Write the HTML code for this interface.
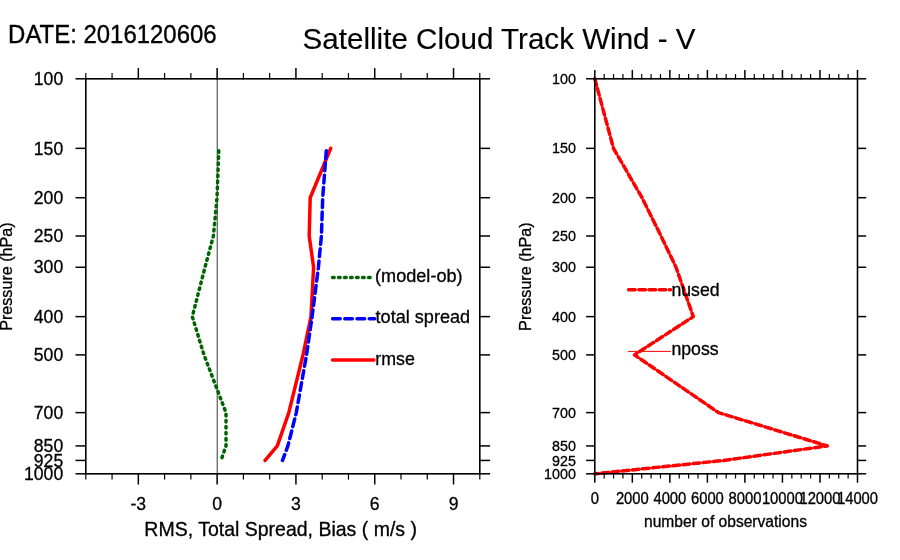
<!DOCTYPE html>
<html><head><meta charset="utf-8"><title>Satellite Cloud Track Wind - V</title>
<style>
html,body{margin:0;padding:0;background:#fff;width:900px;height:560px;overflow:hidden}
svg{display:block;will-change:transform}
text{font-family:"Liberation Sans", Arial, Helvetica, sans-serif;fill:#000}
</style></head><body>
<svg width="900" height="560" viewBox="0 0 900 560">
<rect width="900" height="560" fill="#fff"/>
<text transform="translate(8.10 42.50) scale(1 1.045)" font-size="23.95" text-anchor="start" stroke="#000" stroke-width="0.35" stroke-linejoin="round" >DATE: 2016120606</text>
<text transform="translate(499.10 48.70) scale(1 1.01)" font-size="29.6" text-anchor="middle" stroke="#000" stroke-width="0.15" stroke-linejoin="round" >Satellite Cloud Track Wind - V</text>
<line x1="217.30" y1="78.80" x2="217.30" y2="473.80" stroke="#707070" stroke-width="1.4" />
<polyline points="218.90,148.36 217.00,197.71 213.40,235.99 205.00,267.26 192.30,316.61 204.00,354.89 226.00,412.61 226.00,445.92 221.00,460.43" fill="none" stroke="#006400" stroke-width="3.5" stroke-linejoin="round" stroke-linecap="round" stroke-dasharray="1.6 4.45" stroke-dashoffset="3.6"/>
<polyline points="330.70,148.36 310.20,197.71 309.20,235.99 313.60,267.26 311.00,316.61 303.00,354.89 288.80,412.61 277.30,445.92 265.10,460.43" fill="none" stroke="#ff0000" stroke-width="3.5" stroke-linejoin="round" stroke-linecap="round"/>
<polyline points="326.50,148.36 322.70,197.71 321.40,235.99 318.40,267.26 312.10,316.61 306.50,354.89 296.30,412.61 287.90,445.92 282.50,460.43" fill="none" stroke="#0000ff" stroke-width="3.5" stroke-linejoin="round" stroke-linecap="round" stroke-dasharray="7.8 4.5" stroke-dashoffset="10.0"/>
<line x1="75.50" y1="78.80" x2="85.80" y2="78.80" stroke="#000" stroke-width="1.5" />
<line x1="479.80" y1="78.80" x2="490.10" y2="78.80" stroke="#000" stroke-width="1.5" />
<text x="63.20" y="85.00" font-size="17.6" text-anchor="end" stroke="#000" stroke-width="0.3" stroke-linejoin="round" >100</text>
<line x1="75.50" y1="148.36" x2="85.80" y2="148.36" stroke="#000" stroke-width="1.5" />
<line x1="479.80" y1="148.36" x2="490.10" y2="148.36" stroke="#000" stroke-width="1.5" />
<text x="63.20" y="154.56" font-size="17.6" text-anchor="end" stroke="#000" stroke-width="0.3" stroke-linejoin="round" >150</text>
<line x1="75.50" y1="197.71" x2="85.80" y2="197.71" stroke="#000" stroke-width="1.5" />
<line x1="479.80" y1="197.71" x2="490.10" y2="197.71" stroke="#000" stroke-width="1.5" />
<text x="63.20" y="203.91" font-size="17.6" text-anchor="end" stroke="#000" stroke-width="0.3" stroke-linejoin="round" >200</text>
<line x1="75.50" y1="235.99" x2="85.80" y2="235.99" stroke="#000" stroke-width="1.5" />
<line x1="479.80" y1="235.99" x2="490.10" y2="235.99" stroke="#000" stroke-width="1.5" />
<text x="63.20" y="242.19" font-size="17.6" text-anchor="end" stroke="#000" stroke-width="0.3" stroke-linejoin="round" >250</text>
<line x1="75.50" y1="267.26" x2="85.80" y2="267.26" stroke="#000" stroke-width="1.5" />
<line x1="479.80" y1="267.26" x2="490.10" y2="267.26" stroke="#000" stroke-width="1.5" />
<text x="63.20" y="273.46" font-size="17.6" text-anchor="end" stroke="#000" stroke-width="0.3" stroke-linejoin="round" >300</text>
<line x1="75.50" y1="316.61" x2="85.80" y2="316.61" stroke="#000" stroke-width="1.5" />
<line x1="479.80" y1="316.61" x2="490.10" y2="316.61" stroke="#000" stroke-width="1.5" />
<text x="63.20" y="322.81" font-size="17.6" text-anchor="end" stroke="#000" stroke-width="0.3" stroke-linejoin="round" >400</text>
<line x1="75.50" y1="354.89" x2="85.80" y2="354.89" stroke="#000" stroke-width="1.5" />
<line x1="479.80" y1="354.89" x2="490.10" y2="354.89" stroke="#000" stroke-width="1.5" />
<text x="63.20" y="361.09" font-size="17.6" text-anchor="end" stroke="#000" stroke-width="0.3" stroke-linejoin="round" >500</text>
<line x1="75.50" y1="412.61" x2="85.80" y2="412.61" stroke="#000" stroke-width="1.5" />
<line x1="479.80" y1="412.61" x2="490.10" y2="412.61" stroke="#000" stroke-width="1.5" />
<text x="63.20" y="418.81" font-size="17.6" text-anchor="end" stroke="#000" stroke-width="0.3" stroke-linejoin="round" >700</text>
<line x1="75.50" y1="445.92" x2="85.80" y2="445.92" stroke="#000" stroke-width="1.5" />
<line x1="479.80" y1="445.92" x2="490.10" y2="445.92" stroke="#000" stroke-width="1.5" />
<text x="63.20" y="452.12" font-size="17.6" text-anchor="end" stroke="#000" stroke-width="0.3" stroke-linejoin="round" >850</text>
<line x1="75.50" y1="460.43" x2="85.80" y2="460.43" stroke="#000" stroke-width="1.5" />
<line x1="479.80" y1="460.43" x2="490.10" y2="460.43" stroke="#000" stroke-width="1.5" />
<text x="63.20" y="466.63" font-size="17.6" text-anchor="end" stroke="#000" stroke-width="0.3" stroke-linejoin="round" >925</text>
<line x1="75.50" y1="473.80" x2="85.80" y2="473.80" stroke="#000" stroke-width="1.5" />
<line x1="479.80" y1="473.80" x2="490.10" y2="473.80" stroke="#000" stroke-width="1.5" />
<text x="63.20" y="480.00" font-size="17.6" text-anchor="end" stroke="#000" stroke-width="0.3" stroke-linejoin="round" >1000</text>
<line x1="85.80" y1="79.40" x2="85.80" y2="73.00" stroke="#000" stroke-width="1.2" />
<line x1="85.80" y1="473.20" x2="85.80" y2="479.60" stroke="#000" stroke-width="1.2" />
<line x1="112.07" y1="79.40" x2="112.07" y2="73.00" stroke="#000" stroke-width="1.2" />
<line x1="112.07" y1="473.20" x2="112.07" y2="479.60" stroke="#000" stroke-width="1.2" />
<line x1="138.33" y1="79.40" x2="138.33" y2="68.10" stroke="#000" stroke-width="1.5" />
<line x1="138.33" y1="473.20" x2="138.33" y2="484.50" stroke="#000" stroke-width="1.5" />
<line x1="164.60" y1="79.40" x2="164.60" y2="73.00" stroke="#000" stroke-width="1.2" />
<line x1="164.60" y1="473.20" x2="164.60" y2="479.60" stroke="#000" stroke-width="1.2" />
<line x1="190.87" y1="79.40" x2="190.87" y2="73.00" stroke="#000" stroke-width="1.2" />
<line x1="190.87" y1="473.20" x2="190.87" y2="479.60" stroke="#000" stroke-width="1.2" />
<line x1="217.13" y1="79.40" x2="217.13" y2="68.10" stroke="#000" stroke-width="1.5" />
<line x1="217.13" y1="473.20" x2="217.13" y2="484.50" stroke="#000" stroke-width="1.5" />
<line x1="243.40" y1="79.40" x2="243.40" y2="73.00" stroke="#000" stroke-width="1.2" />
<line x1="243.40" y1="473.20" x2="243.40" y2="479.60" stroke="#000" stroke-width="1.2" />
<line x1="269.67" y1="79.40" x2="269.67" y2="73.00" stroke="#000" stroke-width="1.2" />
<line x1="269.67" y1="473.20" x2="269.67" y2="479.60" stroke="#000" stroke-width="1.2" />
<line x1="295.93" y1="79.40" x2="295.93" y2="68.10" stroke="#000" stroke-width="1.5" />
<line x1="295.93" y1="473.20" x2="295.93" y2="484.50" stroke="#000" stroke-width="1.5" />
<line x1="322.20" y1="79.40" x2="322.20" y2="73.00" stroke="#000" stroke-width="1.2" />
<line x1="322.20" y1="473.20" x2="322.20" y2="479.60" stroke="#000" stroke-width="1.2" />
<line x1="348.47" y1="79.40" x2="348.47" y2="73.00" stroke="#000" stroke-width="1.2" />
<line x1="348.47" y1="473.20" x2="348.47" y2="479.60" stroke="#000" stroke-width="1.2" />
<line x1="374.73" y1="79.40" x2="374.73" y2="68.10" stroke="#000" stroke-width="1.5" />
<line x1="374.73" y1="473.20" x2="374.73" y2="484.50" stroke="#000" stroke-width="1.5" />
<line x1="401.00" y1="79.40" x2="401.00" y2="73.00" stroke="#000" stroke-width="1.2" />
<line x1="401.00" y1="473.20" x2="401.00" y2="479.60" stroke="#000" stroke-width="1.2" />
<line x1="427.27" y1="79.40" x2="427.27" y2="73.00" stroke="#000" stroke-width="1.2" />
<line x1="427.27" y1="473.20" x2="427.27" y2="479.60" stroke="#000" stroke-width="1.2" />
<line x1="453.53" y1="79.40" x2="453.53" y2="68.10" stroke="#000" stroke-width="1.5" />
<line x1="453.53" y1="473.20" x2="453.53" y2="484.50" stroke="#000" stroke-width="1.5" />
<line x1="479.80" y1="79.40" x2="479.80" y2="73.00" stroke="#000" stroke-width="1.2" />
<line x1="479.80" y1="473.20" x2="479.80" y2="479.60" stroke="#000" stroke-width="1.2" />
<text transform="translate(138.33 509.50) scale(1 1.08)" font-size="17.6" text-anchor="middle" stroke="#000" stroke-width="0.3" stroke-linejoin="round" >-3</text>
<text transform="translate(217.13 509.50) scale(1 1.08)" font-size="17.6" text-anchor="middle" stroke="#000" stroke-width="0.3" stroke-linejoin="round" >0</text>
<text transform="translate(295.93 509.50) scale(1 1.08)" font-size="17.6" text-anchor="middle" stroke="#000" stroke-width="0.3" stroke-linejoin="round" >3</text>
<text transform="translate(374.73 509.50) scale(1 1.08)" font-size="17.6" text-anchor="middle" stroke="#000" stroke-width="0.3" stroke-linejoin="round" >6</text>
<text transform="translate(453.53 509.50) scale(1 1.08)" font-size="17.6" text-anchor="middle" stroke="#000" stroke-width="0.3" stroke-linejoin="round" >9</text>
<rect x="85.80" y="78.80" width="394.00" height="395.00" fill="none" stroke="#000" stroke-width="1.6"/>
<text transform="translate(280.65 535.80) scale(1 1.02)" font-size="19.5" text-anchor="middle" stroke="#000" stroke-width="0.3" stroke-linejoin="round" >RMS, Total Spread, Bias ( m/s )</text>
<text x="11.65" y="276.6" font-size="16.15" text-anchor="middle" stroke="#000" stroke-width="0.3" stroke-linejoin="round" transform="rotate(-90 11.65 276.6)">Pressure (hPa)</text>
<polyline points="332.55,277.50 370.20,277.50" fill="none" stroke="#006400" stroke-width="3.5" stroke-linejoin="round" stroke-linecap="round" stroke-dasharray="1.6 4.4"/>
<text transform="translate(375.10 282.30) scale(1 1.03)" font-size="18.1" text-anchor="start" stroke="#000" stroke-width="0.3" stroke-linejoin="round" >(model-ob)</text>
<polyline points="332.60,318.80 374.60,318.80" fill="none" stroke="#0000ff" stroke-width="3.5" stroke-linejoin="round" stroke-linecap="round" stroke-dasharray="7.6 4.6"/>
<text transform="translate(375.60 323.40) scale(1 1.03)" font-size="18.1" text-anchor="start" stroke="#000" stroke-width="0.3" stroke-linejoin="round" >total spread</text>
<polyline points="332.50,360.00 374.00,360.00" fill="none" stroke="#ff0000" stroke-width="3.5" stroke-linejoin="round" stroke-linecap="round"/>
<text transform="translate(375.30 365.00) scale(1 1.04)" font-size="17.8" text-anchor="start" stroke="#000" stroke-width="0.3" stroke-linejoin="round" >rmse</text>
<polyline points="594.80,78.80 613.50,148.36 642.00,197.71 661.00,235.99 676.00,267.26 693.30,316.61 634.50,354.89 718.50,412.61 827.30,445.92 724.00,460.43 594.80,473.80" fill="none" stroke="#ff0000" stroke-width="1.3" stroke-linejoin="round" />
<polyline points="594.80,78.80 613.50,148.36 642.00,197.71 661.00,235.99 676.00,267.26 693.30,316.61 634.50,354.89 718.50,412.61 827.30,445.92 724.00,460.43 594.80,473.80" fill="none" stroke="#ff0000" stroke-width="3.5" stroke-linejoin="round" stroke-linecap="round" stroke-dasharray="6.6 3.6"/>
<line x1="586.10" y1="78.80" x2="594.80" y2="78.80" stroke="#000" stroke-width="1.5" />
<line x1="857.50" y1="78.80" x2="866.20" y2="78.80" stroke="#000" stroke-width="1.5" />
<text transform="translate(575.90 83.90) scale(1 1.08)" font-size="14.3" text-anchor="end" stroke="#000" stroke-width="0.3" stroke-linejoin="round" >100</text>
<line x1="586.10" y1="148.36" x2="594.80" y2="148.36" stroke="#000" stroke-width="1.5" />
<line x1="857.50" y1="148.36" x2="866.20" y2="148.36" stroke="#000" stroke-width="1.5" />
<text transform="translate(575.90 153.46) scale(1 1.08)" font-size="14.3" text-anchor="end" stroke="#000" stroke-width="0.3" stroke-linejoin="round" >150</text>
<line x1="586.10" y1="197.71" x2="594.80" y2="197.71" stroke="#000" stroke-width="1.5" />
<line x1="857.50" y1="197.71" x2="866.20" y2="197.71" stroke="#000" stroke-width="1.5" />
<text transform="translate(575.90 202.81) scale(1 1.08)" font-size="14.3" text-anchor="end" stroke="#000" stroke-width="0.3" stroke-linejoin="round" >200</text>
<line x1="586.10" y1="235.99" x2="594.80" y2="235.99" stroke="#000" stroke-width="1.5" />
<line x1="857.50" y1="235.99" x2="866.20" y2="235.99" stroke="#000" stroke-width="1.5" />
<text transform="translate(575.90 241.09) scale(1 1.08)" font-size="14.3" text-anchor="end" stroke="#000" stroke-width="0.3" stroke-linejoin="round" >250</text>
<line x1="586.10" y1="267.26" x2="594.80" y2="267.26" stroke="#000" stroke-width="1.5" />
<line x1="857.50" y1="267.26" x2="866.20" y2="267.26" stroke="#000" stroke-width="1.5" />
<text transform="translate(575.90 272.36) scale(1 1.08)" font-size="14.3" text-anchor="end" stroke="#000" stroke-width="0.3" stroke-linejoin="round" >300</text>
<line x1="586.10" y1="316.61" x2="594.80" y2="316.61" stroke="#000" stroke-width="1.5" />
<line x1="857.50" y1="316.61" x2="866.20" y2="316.61" stroke="#000" stroke-width="1.5" />
<text transform="translate(575.90 321.71) scale(1 1.08)" font-size="14.3" text-anchor="end" stroke="#000" stroke-width="0.3" stroke-linejoin="round" >400</text>
<line x1="586.10" y1="354.89" x2="594.80" y2="354.89" stroke="#000" stroke-width="1.5" />
<line x1="857.50" y1="354.89" x2="866.20" y2="354.89" stroke="#000" stroke-width="1.5" />
<text transform="translate(575.90 359.99) scale(1 1.08)" font-size="14.3" text-anchor="end" stroke="#000" stroke-width="0.3" stroke-linejoin="round" >500</text>
<line x1="586.10" y1="412.61" x2="594.80" y2="412.61" stroke="#000" stroke-width="1.5" />
<line x1="857.50" y1="412.61" x2="866.20" y2="412.61" stroke="#000" stroke-width="1.5" />
<text transform="translate(575.90 417.71) scale(1 1.08)" font-size="14.3" text-anchor="end" stroke="#000" stroke-width="0.3" stroke-linejoin="round" >700</text>
<line x1="586.10" y1="445.92" x2="594.80" y2="445.92" stroke="#000" stroke-width="1.5" />
<line x1="857.50" y1="445.92" x2="866.20" y2="445.92" stroke="#000" stroke-width="1.5" />
<text transform="translate(575.90 451.02) scale(1 1.08)" font-size="14.3" text-anchor="end" stroke="#000" stroke-width="0.3" stroke-linejoin="round" >850</text>
<line x1="586.10" y1="460.43" x2="594.80" y2="460.43" stroke="#000" stroke-width="1.5" />
<line x1="857.50" y1="460.43" x2="866.20" y2="460.43" stroke="#000" stroke-width="1.5" />
<text transform="translate(575.90 465.53) scale(1 1.08)" font-size="14.3" text-anchor="end" stroke="#000" stroke-width="0.3" stroke-linejoin="round" >925</text>
<line x1="586.10" y1="473.80" x2="594.80" y2="473.80" stroke="#000" stroke-width="1.5" />
<line x1="857.50" y1="473.80" x2="866.20" y2="473.80" stroke="#000" stroke-width="1.5" />
<text transform="translate(575.90 478.90) scale(1 1.08)" font-size="14.3" text-anchor="end" stroke="#000" stroke-width="0.3" stroke-linejoin="round" >1000</text>
<line x1="594.80" y1="79.40" x2="594.80" y2="69.90" stroke="#000" stroke-width="1.5" />
<line x1="594.80" y1="473.20" x2="594.80" y2="482.70" stroke="#000" stroke-width="1.5" />
<line x1="604.18" y1="79.40" x2="604.18" y2="74.10" stroke="#000" stroke-width="1.2" />
<line x1="604.18" y1="473.20" x2="604.18" y2="478.50" stroke="#000" stroke-width="1.2" />
<line x1="613.56" y1="79.40" x2="613.56" y2="74.10" stroke="#000" stroke-width="1.2" />
<line x1="613.56" y1="473.20" x2="613.56" y2="478.50" stroke="#000" stroke-width="1.2" />
<line x1="622.95" y1="79.40" x2="622.95" y2="74.10" stroke="#000" stroke-width="1.2" />
<line x1="622.95" y1="473.20" x2="622.95" y2="478.50" stroke="#000" stroke-width="1.2" />
<line x1="632.33" y1="79.40" x2="632.33" y2="69.90" stroke="#000" stroke-width="1.5" />
<line x1="632.33" y1="473.20" x2="632.33" y2="482.70" stroke="#000" stroke-width="1.5" />
<line x1="641.71" y1="79.40" x2="641.71" y2="74.10" stroke="#000" stroke-width="1.2" />
<line x1="641.71" y1="473.20" x2="641.71" y2="478.50" stroke="#000" stroke-width="1.2" />
<line x1="651.09" y1="79.40" x2="651.09" y2="74.10" stroke="#000" stroke-width="1.2" />
<line x1="651.09" y1="473.20" x2="651.09" y2="478.50" stroke="#000" stroke-width="1.2" />
<line x1="660.47" y1="79.40" x2="660.47" y2="74.10" stroke="#000" stroke-width="1.2" />
<line x1="660.47" y1="473.20" x2="660.47" y2="478.50" stroke="#000" stroke-width="1.2" />
<line x1="669.86" y1="79.40" x2="669.86" y2="69.90" stroke="#000" stroke-width="1.5" />
<line x1="669.86" y1="473.20" x2="669.86" y2="482.70" stroke="#000" stroke-width="1.5" />
<line x1="679.24" y1="79.40" x2="679.24" y2="74.10" stroke="#000" stroke-width="1.2" />
<line x1="679.24" y1="473.20" x2="679.24" y2="478.50" stroke="#000" stroke-width="1.2" />
<line x1="688.62" y1="79.40" x2="688.62" y2="74.10" stroke="#000" stroke-width="1.2" />
<line x1="688.62" y1="473.20" x2="688.62" y2="478.50" stroke="#000" stroke-width="1.2" />
<line x1="698.00" y1="79.40" x2="698.00" y2="74.10" stroke="#000" stroke-width="1.2" />
<line x1="698.00" y1="473.20" x2="698.00" y2="478.50" stroke="#000" stroke-width="1.2" />
<line x1="707.39" y1="79.40" x2="707.39" y2="69.90" stroke="#000" stroke-width="1.5" />
<line x1="707.39" y1="473.20" x2="707.39" y2="482.70" stroke="#000" stroke-width="1.5" />
<line x1="716.77" y1="79.40" x2="716.77" y2="74.10" stroke="#000" stroke-width="1.2" />
<line x1="716.77" y1="473.20" x2="716.77" y2="478.50" stroke="#000" stroke-width="1.2" />
<line x1="726.15" y1="79.40" x2="726.15" y2="74.10" stroke="#000" stroke-width="1.2" />
<line x1="726.15" y1="473.20" x2="726.15" y2="478.50" stroke="#000" stroke-width="1.2" />
<line x1="735.53" y1="79.40" x2="735.53" y2="74.10" stroke="#000" stroke-width="1.2" />
<line x1="735.53" y1="473.20" x2="735.53" y2="478.50" stroke="#000" stroke-width="1.2" />
<line x1="744.91" y1="79.40" x2="744.91" y2="69.90" stroke="#000" stroke-width="1.5" />
<line x1="744.91" y1="473.20" x2="744.91" y2="482.70" stroke="#000" stroke-width="1.5" />
<line x1="754.30" y1="79.40" x2="754.30" y2="74.10" stroke="#000" stroke-width="1.2" />
<line x1="754.30" y1="473.20" x2="754.30" y2="478.50" stroke="#000" stroke-width="1.2" />
<line x1="763.68" y1="79.40" x2="763.68" y2="74.10" stroke="#000" stroke-width="1.2" />
<line x1="763.68" y1="473.20" x2="763.68" y2="478.50" stroke="#000" stroke-width="1.2" />
<line x1="773.06" y1="79.40" x2="773.06" y2="74.10" stroke="#000" stroke-width="1.2" />
<line x1="773.06" y1="473.20" x2="773.06" y2="478.50" stroke="#000" stroke-width="1.2" />
<line x1="782.44" y1="79.40" x2="782.44" y2="69.90" stroke="#000" stroke-width="1.5" />
<line x1="782.44" y1="473.20" x2="782.44" y2="482.70" stroke="#000" stroke-width="1.5" />
<line x1="791.83" y1="79.40" x2="791.83" y2="74.10" stroke="#000" stroke-width="1.2" />
<line x1="791.83" y1="473.20" x2="791.83" y2="478.50" stroke="#000" stroke-width="1.2" />
<line x1="801.21" y1="79.40" x2="801.21" y2="74.10" stroke="#000" stroke-width="1.2" />
<line x1="801.21" y1="473.20" x2="801.21" y2="478.50" stroke="#000" stroke-width="1.2" />
<line x1="810.59" y1="79.40" x2="810.59" y2="74.10" stroke="#000" stroke-width="1.2" />
<line x1="810.59" y1="473.20" x2="810.59" y2="478.50" stroke="#000" stroke-width="1.2" />
<line x1="819.97" y1="79.40" x2="819.97" y2="69.90" stroke="#000" stroke-width="1.5" />
<line x1="819.97" y1="473.20" x2="819.97" y2="482.70" stroke="#000" stroke-width="1.5" />
<line x1="829.35" y1="79.40" x2="829.35" y2="74.10" stroke="#000" stroke-width="1.2" />
<line x1="829.35" y1="473.20" x2="829.35" y2="478.50" stroke="#000" stroke-width="1.2" />
<line x1="838.74" y1="79.40" x2="838.74" y2="74.10" stroke="#000" stroke-width="1.2" />
<line x1="838.74" y1="473.20" x2="838.74" y2="478.50" stroke="#000" stroke-width="1.2" />
<line x1="848.12" y1="79.40" x2="848.12" y2="74.10" stroke="#000" stroke-width="1.2" />
<line x1="848.12" y1="473.20" x2="848.12" y2="478.50" stroke="#000" stroke-width="1.2" />
<line x1="857.50" y1="79.40" x2="857.50" y2="69.90" stroke="#000" stroke-width="1.5" />
<line x1="857.50" y1="473.20" x2="857.50" y2="482.70" stroke="#000" stroke-width="1.5" />
<text transform="translate(594.80 503.70) scale(1 1.07)" font-size="14.8" text-anchor="middle" stroke="#000" stroke-width="0.3" stroke-linejoin="round" >0</text>
<text transform="translate(632.33 503.70) scale(1 1.07)" font-size="14.8" text-anchor="middle" stroke="#000" stroke-width="0.3" stroke-linejoin="round" >2000</text>
<text transform="translate(669.86 503.70) scale(1 1.07)" font-size="14.8" text-anchor="middle" stroke="#000" stroke-width="0.3" stroke-linejoin="round" >4000</text>
<text transform="translate(707.39 503.70) scale(1 1.07)" font-size="14.8" text-anchor="middle" stroke="#000" stroke-width="0.3" stroke-linejoin="round" >6000</text>
<text transform="translate(744.91 503.70) scale(1 1.07)" font-size="14.8" text-anchor="middle" stroke="#000" stroke-width="0.3" stroke-linejoin="round" >8000</text>
<text transform="translate(782.44 503.70) scale(1 1.07)" font-size="14.8" text-anchor="middle" stroke="#000" stroke-width="0.3" stroke-linejoin="round" >10000</text>
<text transform="translate(819.97 503.70) scale(1 1.07)" font-size="14.8" text-anchor="middle" stroke="#000" stroke-width="0.3" stroke-linejoin="round" >12000</text>
<text transform="translate(857.50 503.70) scale(1 1.07)" font-size="14.8" text-anchor="middle" stroke="#000" stroke-width="0.3" stroke-linejoin="round" >14000</text>
<rect x="594.80" y="78.80" width="262.70" height="395.00" fill="none" stroke="#000" stroke-width="1.6"/>
<text x="725.50" y="526.50" font-size="15.6" text-anchor="middle" stroke="#000" stroke-width="0.3" stroke-linejoin="round" >number of observations</text>
<text x="531.4" y="276.6" font-size="16.15" text-anchor="middle" stroke="#000" stroke-width="0.3" stroke-linejoin="round" transform="rotate(-90 531.4 276.6)">Pressure (hPa)</text>
<polyline points="628.60,289.70 670.50,289.70" fill="none" stroke="#ff0000" stroke-width="3.5" stroke-linejoin="round" stroke-linecap="round" stroke-dasharray="6.6 3.6"/>
<text x="671.40" y="295.80" font-size="17.7" text-anchor="start" stroke="#000" stroke-width="0.3" stroke-linejoin="round" >nused</text>
<polyline points="627.90,351.40 670.90,351.40" fill="none" stroke="#ff0000" stroke-width="1.0" stroke-linejoin="round" />
<text x="671.40" y="354.60" font-size="17.7" text-anchor="start" stroke="#000" stroke-width="0.3" stroke-linejoin="round" >nposs</text>
</svg>
</body></html>
